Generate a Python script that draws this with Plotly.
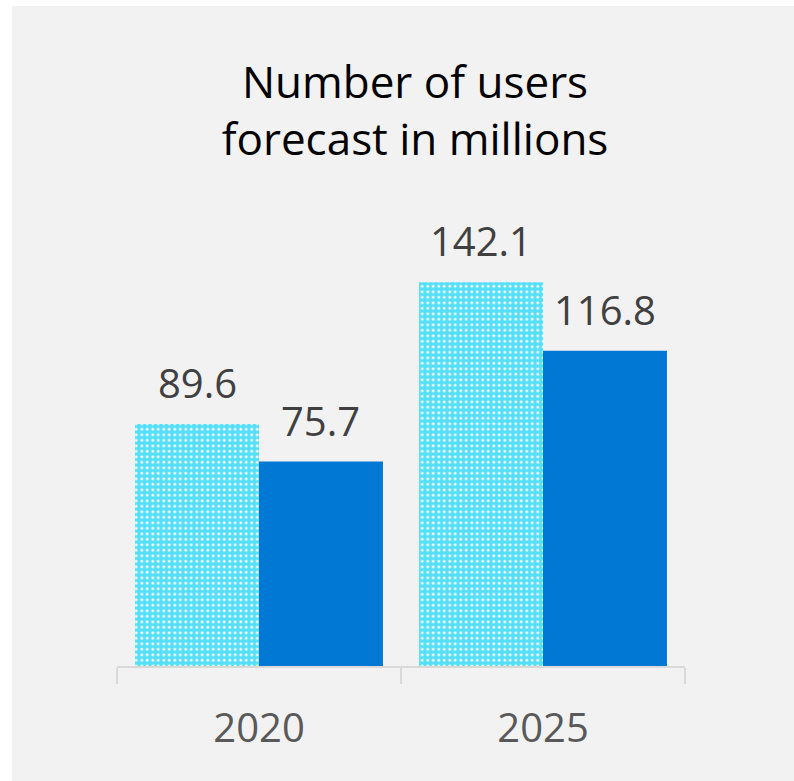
import plotly.graph_objects as go

# Forecast data (millions of users)
years = ["2020", "2025"]
series_a = [89.6, 142.1]   # patterned light series
series_b = [75.7, 116.8]   # solid blue series
value_labels_a = ["89.6", "142.1"]
value_labels_b = ["75.7", "116.8"]

W, H = 794, 781
L, R, T, B = 117, 109, 234, 115
plot_w = W - L - R
plot_h = H - T - B
y_max = 160
BARGAP = 0.127

LIGHT = "#55dffa"
DARK = "#0078d4"
PANEL = "#f2f2f2"
FONT = "Open Sans, Noto Sans, sans-serif"

fig = go.Figure()
fig.add_trace(go.Bar(
    x=years, y=series_a, name="a",
    marker=dict(color=LIGHT, line=dict(width=0),
                pattern=dict(shape=".", fgcolor="#ffffff", bgcolor=LIGHT,
                             size=5.5, solidity=0.22, fillmode="replace")),
))
fig.add_trace(go.Bar(
    x=years, y=series_b, name="b",
    marker=dict(color=DARK, line=dict(width=0)),
))

# value labels above each bar (x given as category index)
offset = (1 - BARGAP) / 4
for i in range(len(years)):
    for val, txt, dx in ((series_a[i], value_labels_a[i], -offset),
                         (series_b[i], value_labels_b[i], offset)):
        fig.add_annotation(x=i + dx, y=val, text=txt, showarrow=False,
                           xanchor="center", yanchor="bottom", yshift=12,
                           font=dict(family=FONT, size=40, color="#404040"))

# light grey panel behind the chart
fig.add_shape(type="rect", layer="below", xref="paper", yref="paper",
              x0=(12 - L) / plot_w, x1=(W - L) / plot_w,
              y0=-(H - (T + plot_h)) / plot_h, y1=(T + plot_h - 6) / plot_h,
              fillcolor=PANEL, line=dict(width=0))

fig.update_layout(
    width=W, height=H,
    margin=dict(l=L, r=R, t=T, b=B, autoexpand=False),
    paper_bgcolor="#ffffff", plot_bgcolor="rgba(0,0,0,0)",
    barmode="group", bargap=BARGAP, bargroupgap=0,
    showlegend=False,
    title=dict(text="Number of users<br>forecast in millions",
               x=415 / W, xanchor="center", xref="container",
               y=1 - 98 / H, yanchor="top", yref="container",
               font=dict(family=FONT, size=44, color="#000000")),
    xaxis=dict(type="category", range=[-0.5, 1.5],
               showline=True, linecolor="#d9d9d9", linewidth=2,
               ticks="outside", tickson="boundaries", ticklen=16,
               tickcolor="#d9d9d9", tickwidth=2, tickangle=0,
               tickfont=dict(family=FONT, size=40, color="#595959"),
               ticklabelstandoff=26, showgrid=False, zeroline=False),
    yaxis=dict(range=[0, y_max], visible=False, showgrid=False),
)

fig.write_html("out.html")
